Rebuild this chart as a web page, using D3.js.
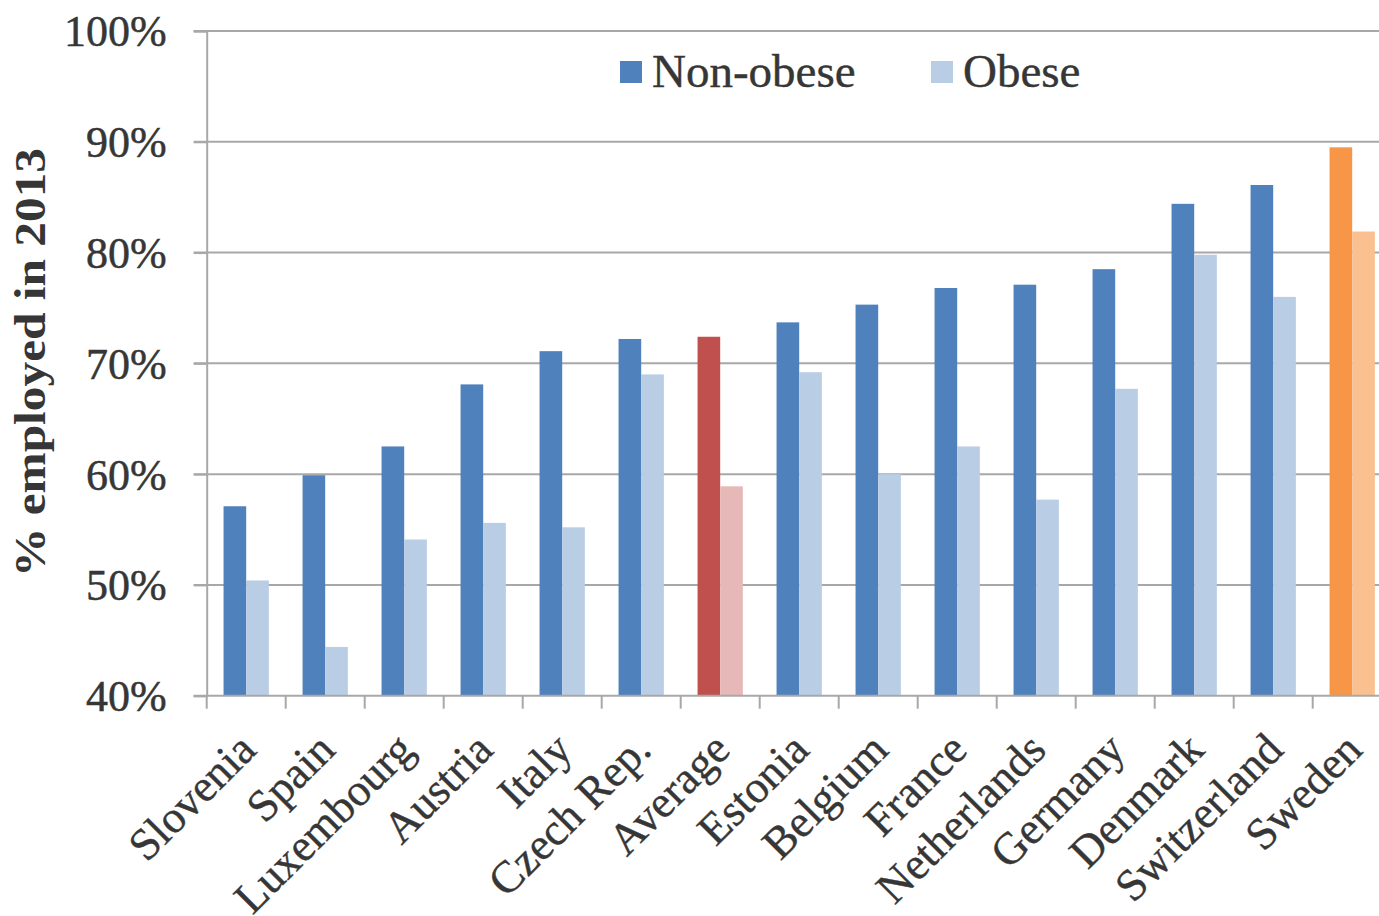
<!DOCTYPE html>
<html>
<head>
<meta charset="utf-8">
<script src="https://cdn.jsdelivr.net/npm/d3@7"></script>
<style>
  html, body { margin: 0; padding: 0; background: #ffffff; }
  svg { display: block; }
  text { font-family: "Liberation Serif", "Times New Roman", serif; fill: #363636; }
</style>
</head>
<body>
<svg id="chart" width="1379" height="916"></svg>
<script>
// Employment rate in 2013, by obesity status
const countries = ["Slovenia", "Spain", "Luxembourg", "Austria", "Italy", "Czech Rep.", "Average",
  "Estonia", "Belgium", "France", "Netherlands", "Germany", "Denmark", "Switzerland", "Sweden"];
const nonObese = [57.1, 59.9, 62.5, 68.1, 71.1, 72.2, 72.4, 73.7, 75.3, 76.8, 77.1, 78.5, 84.4, 86.1, 89.5];
const obese    = [50.4, 44.4, 54.1, 55.6, 55.2, 69.0, 58.9, 69.2, 60.0, 62.5, 57.7, 67.7, 79.8, 76.0, 81.9];
const seriesNames = ["Non-obese", "Obese"];
const yTicks = [40, 50, 60, 70, 80, 90, 100];

// colour pairs: [non-obese, obese]
const palette = {
  country: ["#4f81bd", "#b9cde5"],
  average: ["#c0504d", "#e6b9b8"],
  sweden:  ["#f79646", "#fac090"]
};
const paletteFor = c => c === "Average" ? palette.average : (c === "Sweden" ? palette.sweden : palette.country);

const svg = d3.select("#chart");
const left = 206.7, step = 79.0;
const x0 = d3.scaleBand().domain(countries).range([left, left + step * countries.length]).padding(0);
const x1 = d3.scaleBand().domain(seriesNames).range([0, x0.bandwidth()]).paddingInner(0).paddingOuter(0.744);
const y = d3.scaleLinear().domain([40, 100]).range([695.7, 31]);

const axisColor = "#a8a8a8";

// horizontal gridlines
svg.append("g").selectAll("line").data(yTicks.filter(t => t > 40)).join("line")
  .attr("x1", left - 13).attr("x2", x0.range()[1])
  .attr("y1", d => y(d)).attr("y2", d => y(d))
  .attr("stroke", axisColor).attr("stroke-width", 2);

// bars
const rows = countries.map((c, i) => ({ c, vals: [nonObese[i], obese[i]] }));
const groups = svg.append("g").selectAll("g").data(rows).join("g")
  .attr("transform", d => `translate(${x0(d.c)},0)`);
groups.selectAll("rect").data(d => d.vals.map((v, k) => ({ c: d.c, k, v }))).join("rect")
  .attr("x", d => x1(seriesNames[d.k]))
  .attr("width", x1.bandwidth())
  .attr("y", d => y(d.v))
  .attr("height", d => y(40) - y(d.v))
  .attr("fill", d => paletteFor(d.c)[d.k]);

// y axis
const yAxis = svg.append("g").attr("transform", `translate(${left},0)`)
  .call(d3.axisLeft(y).tickValues(yTicks).tickSize(13).tickPadding(27).tickFormat(d => d + "%"));
yAxis.select(".domain").attr("stroke", axisColor).attr("stroke-width", 2);
yAxis.selectAll(".tick line").attr("stroke", axisColor).attr("stroke-width", 2);
yAxis.selectAll(".tick text").attr("font-size", 44).attr("fill", "#363636")
  .attr("stroke", "#363636").attr("stroke-width", 0.5)
  .attr("font-family", "Liberation Serif, serif").attr("dy", "0.34em");

// x axis: baseline with tick marks at band boundaries
const bottom = y(40);
svg.append("line").attr("x1", left - 13).attr("x2", x0.range()[1])
  .attr("y1", bottom).attr("y2", bottom).attr("stroke", axisColor).attr("stroke-width", 2);
const bounds = d3.range(countries.length + 1).map(i => left + i * step);
svg.append("g").selectAll("line").data(bounds).join("line")
  .attr("x1", d => d).attr("x2", d => d)
  .attr("y1", bottom).attr("y2", bottom + 13)
  .attr("stroke", axisColor).attr("stroke-width", 2);

// rotated category labels
svg.append("g").selectAll("text").data(countries).join("text")
  .attr("text-anchor", "end")
  .attr("font-size", 45)
  .attr("stroke", "#363636").attr("stroke-width", 0.4)
  .attr("transform", d => `translate(${x0(d) + x0.bandwidth() / 2 + 12},752) rotate(-45)`)
  .text(d => d);

// y axis title
svg.append("text")
  .attr("transform", "translate(45,362.5) rotate(-90)")
  .attr("text-anchor", "middle")
  .attr("font-size", 44).attr("font-weight", "bold")
  .attr("textLength", 429).attr("lengthAdjust", "spacingAndGlyphs")
  .text("% employed in 2013");

// legend
const legendPos = [{ sx: 620, tx: 652 }, { sx: 931, tx: 963 }];
const legend = svg.append("g").selectAll("g").data(seriesNames).join("g");
legend.append("rect")
  .attr("x", (d, i) => legendPos[i].sx).attr("y", 61)
  .attr("width", 22).attr("height", 22)
  .attr("fill", (d, i) => palette.country[i]);
legend.append("text")
  .attr("x", (d, i) => legendPos[i].tx).attr("y", 87)
  .attr("font-size", 47)
  .attr("stroke", "#363636").attr("stroke-width", 0.4)
  .text(d => d);
</script>
</body>
</html>
